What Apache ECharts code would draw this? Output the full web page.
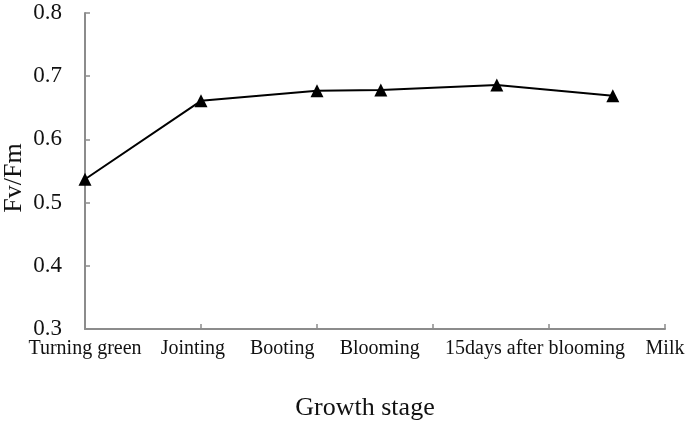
<!DOCTYPE HTML>
<html>
	<head>
		<meta charset="utf-8">
		<title>Fv/Fm</title>
		<style type="text/css">
			html, body { margin: 0; padding: 0; background: #fff; }
			#main { width: 685px; height: 428px; }
		</style>
	</head>
	<body>
		<div id="main"></div>
	</body>
	<script type="text/javascript" src="https://cdn.jsdelivr.net/npm/echarts@6/dist/echarts.min.js"></script>
	<script type="text/javascript">
		// stage positions along the x axis (axis units) and measured Fv/Fm
		var pointX = [0, 1, 2, 2.55, 3.55, 4.55];
		var fvfm = [0.537, 0.661, 0.677, 0.678, 0.686, 0.669];
		// stage names and where their labels sit
		var stageNames = ['Turning green', 'Jointing', 'Booting', 'Blooming', '15days after blooming', 'Milk'];
		var labelX = [0, 0.93, 1.7, 2.54, 3.88, 5];
		var tickX = [0, 1, 2, 3, 4, 5];

		var serif = '"Liberation Serif", "DejaVu Serif", serif';
		var axisGrey = '#8c8c8c';

		var seriesData = [];
		for (var i = 0; i < pointX.length; i++) {
			seriesData.push([pointX[i], fvfm[i]]);
		}

		var option = {
			backgroundColor: '#fff',
			animation: false,
			grid: {
				left: 85,
				right: 20,
				top: 13,
				bottom: 99,
				outerBoundsMode: 'none'
			},
			xAxis: {
				type: 'value',
				min: 0,
				max: 5,
				interval: 1,
				name: 'Growth stage',
				nameLocation: 'middle',
				nameGap: 66,
				nameMoveOverlap: false,
				nameTextStyle: { fontFamily: serif, fontSize: 26, color: '#111', padding: [0, 20, 0, 0] },
				axisLine: { lineStyle: { color: axisGrey, width: 2 } },
				axisTick: {
					inside: true,
					length: 5,
					customValues: tickX,
					lineStyle: { color: axisGrey, width: 1.5 }
				},
				splitLine: { show: false },
				axisLabel: {
					customValues: labelX,
					margin: 10,
					fontFamily: serif,
					fontSize: 20,
					color: '#111',
					formatter: function (v) {
						for (var k = 0; k < labelX.length; k++) {
							if (Math.abs(labelX[k] - v) < 1e-6) return stageNames[k];
						}
						return '';
					}
				}
			},
			yAxis: {
				type: 'value',
				min: 0.3,
				max: 0.8,
				interval: 0.1,
				name: 'Fv/Fm',
				nameLocation: 'middle',
				nameRotate: 90,
				nameGap: 58,
				nameMoveOverlap: false,
				nameTextStyle: { fontFamily: serif, fontSize: 26, color: '#111', padding: [0, 14, 0, 0] },
				axisLine: { show: true, lineStyle: { color: axisGrey, width: 2 } },
				axisTick: { show: true, inside: true, length: 5, lineStyle: { color: axisGrey, width: 1.5 } },
				splitLine: { show: false },
				axisLabel: {
					margin: 23,
					fontFamily: serif,
					fontSize: 23,
					color: '#111',
					formatter: function (v) { return v.toFixed(1); }
				}
			},
			series: [{
				type: 'line',
				data: seriesData,
				symbol: 'triangle',
				symbolSize: 13,
				lineStyle: { color: '#000', width: 2 },
				itemStyle: { color: '#000' }
			}]
		};

		var myChart = echarts.init(document.getElementById('main'));
		myChart.setOption(option);
	</script>
</html>
